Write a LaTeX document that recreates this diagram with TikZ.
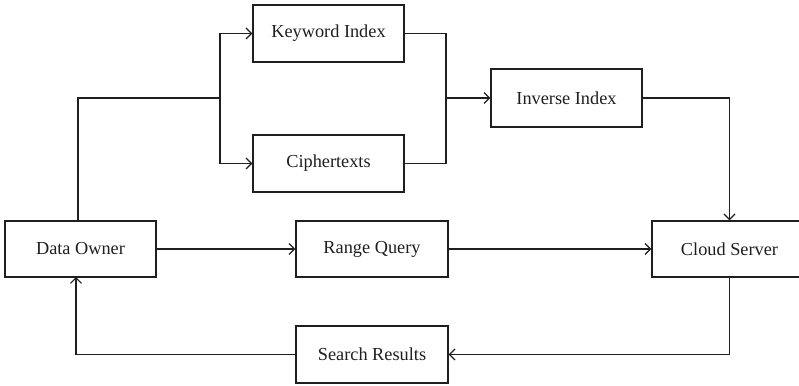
\documentclass[tikz,border=0pt]{standalone}
\usepackage{fontspec}
\setmainfont{Liberation Serif}
\usetikzlibrary{arrows.meta}
\tikzset{
  box/.style={draw, line width=1.3pt, rectangle, inner sep=0pt, font=\fontsize{18.3}{21}\selectfont},
  link/.style={line width=1.3pt},
  flow/.style={link, -{Straight Barb[length=5.5pt,width=11pt,line width=1.2pt]}}
}
\begin{document}
\begin{tikzpicture}[x=1pt,y=-1pt,color=black!88]
  \clip (0,0) rectangle (799,385);
  \fill[white] (0,0) rectangle (799,385);

  % boxes
  \node[box, minimum width=151pt, minimum height=57pt] (kw)  at (328.5,33.5)  {Keyword Index};
  \node[box, minimum width=151pt, minimum height=57pt] (ci)  at (328.5,163.5) {Ciphertexts};
  \node[box, minimum width=151pt, minimum height=58pt] (inv) at (566.5,98)    {Inverse Index};
  \node[box, minimum width=151pt, minimum height=56pt] (own) at (80.5,249)    {Data Owner};
  \node[box, minimum width=152pt, minimum height=56pt] (rq)  at (372,249)     {Range Query};
  \node[box, minimum width=155pt, minimum height=56pt] (cs)  at (729.5,249)   {Cloud Server};
  \node[box, minimum width=152pt, minimum height=57pt] (sr)  at (372,354.5)   {Search Results};

  % junction points
  \coordinate (split) at (220,98);
  \coordinate (merge) at (446,98);
  \coordinate (ownup) at (78,221);
  \coordinate (ownin) at (76,277);

  % data owner feeds keyword index and ciphertexts
  \draw[link] (ownup) |- (split);
  \draw[flow] (split) |- (kw.west);
  \draw[flow] (split) |- (ci.west);

  % both merge into the inverse index
  \draw[link] (kw.east) -| (merge);
  \draw[link] (ci.east) -| (merge);
  \draw[flow] (merge) -- (inv.west);

  % inverse index to cloud server
  \draw[flow] (inv.east) -| (cs.north);

  % query path
  \draw[flow] (own.east) -- (rq.west);
  \draw[flow] (rq.east) -- (cs.west);

  % results path
  \draw[flow] (cs.south) |- (sr.east);
  \draw[flow] (sr.west) -| (ownin);
\end{tikzpicture}
\end{document}
